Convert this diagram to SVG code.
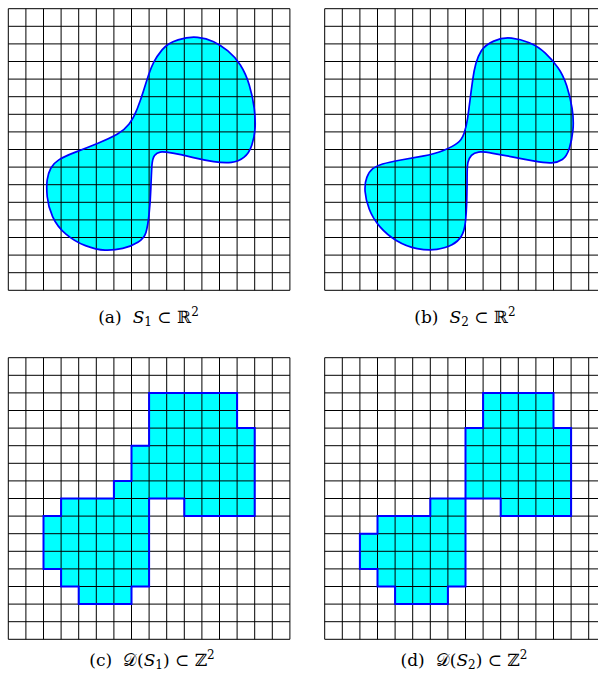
<svg xmlns="http://www.w3.org/2000/svg" xmlns:xlink="http://www.w3.org/1999/xlink" width="598" height="677" viewBox="0 0 598 677">
<style>
.bg{fill:#ffffff}
.grid{fill:none;stroke:#000000;stroke-width:1}
.fillc{fill:#00ffff;stroke:none}
.edge{fill:none;stroke:#0000ff;stroke-width:1.7;stroke-linejoin:round}
.edged{fill:none;stroke:#0000ff;stroke-width:2;stroke-linejoin:miter}
.cap{font-family:"DejaVu Serif","Liberation Serif",serif;font-size:17px;fill:#000000}
.sub{font-size:12px}
.it{font-style:italic}
</style>
<defs>
<path id="gridlines" d="M0,0V281.6M17.6,0V281.6M35.2,0V281.6M52.8,0V281.6M70.4,0V281.6M88,0V281.6M105.6,0V281.6M123.2,0V281.6M140.8,0V281.6M158.4,0V281.6M176,0V281.6M193.6,0V281.6M211.2,0V281.6M228.8,0V281.6M246.4,0V281.6M264,0V281.6M281.6,0V281.6M0,0H281.6M0,17.6H281.6M0,35.2H281.6M0,52.8H281.6M0,70.4H281.6M0,88H281.6M0,105.6H281.6M0,123.2H281.6M0,140.8H281.6M0,158.4H281.6M0,176H281.6M0,193.6H281.6M0,211.2H281.6M0,228.8H281.6M0,246.4H281.6M0,264H281.6M0,281.6H281.6"/>
<path id="s1" d="M189.3,28.7 Q180.4,27.8 169.75,31.15 Q159.1,34.5 153.75,41.2 Q148.4,47.9 145.75,52.9 Q143.1,57.9 140.35,66.15 Q137.6,74.4 135,82.8 Q132.4,91.2 128.85,100.35 Q125.3,109.5 120.8,115.4 Q116.3,121.3 109.2,125.4 Q102.1,129.5 89.7,134.55 Q77.3,139.6 66.55,143.7 Q55.8,147.8 50.5,151.15 Q45.2,154.5 42.5,159.55 Q39.8,164.6 38.9,171.2 Q38,177.8 38.9,187.8 Q39.8,197.8 44.3,207.85 Q48.8,217.9 57.65,225.35 Q66.5,232.8 77.15,236.95 Q87.8,241.1 96.7,241.45 Q105.6,241.8 114.4,239.7 Q123.2,237.6 129.55,233.55 Q135.9,229.5 137.65,223.7 Q139.4,217.9 140.7,206.2 Q142,194.5 142.55,179.55 Q143.1,164.6 143.6,157.1 Q144.1,149.6 146.25,146.7 Q148.4,143.8 152,143.35 Q155.6,142.9 164.5,144.5 Q173.4,146.1 184.05,148.65 Q194.7,151.2 205.35,152.85 Q216,154.5 223.1,153.65 Q230.2,152.8 235.55,148.65 Q240.9,144.5 243.55,136.25 Q246.2,128 246.75,119.6 Q247.3,111.2 245.9,99.5 Q244.5,87.8 240.95,76.2 Q237.4,64.6 232.05,56.25 Q226.7,47.9 219.55,42.1 Q212.4,36.3 205.3,32.95 Q198.2,29.6 189.3,28.7 Z"/>
<path id="s2" d="M186.8,29.45 Q177.9,28.5 169.05,32.4 Q160.2,36.3 156.65,42.1 Q153.1,47.9 151.25,54.55 Q149.4,61.2 148,71.15 Q146.6,81.1 145.35,91.15 Q144.1,101.2 142.9,109.55 Q141.7,117.9 139.4,124.5 Q137.1,131.1 132.6,134.45 Q128.1,137.8 119.25,141.5 Q110.4,145.2 97.9,147.4 Q85.4,149.6 74.75,151.55 Q64.1,153.5 57.85,155.35 Q51.6,157.2 48.05,160 Q44.5,162.8 42.15,168.7 Q39.8,174.6 40.4,182.85 Q41,191.1 44.5,200.35 Q48,209.6 55.15,217.9 Q62.3,226.2 72.05,232.1 Q81.8,238 92.45,239.9 Q103.1,241.8 112.1,240.65 Q121.1,239.5 127.25,236.15 Q133.4,232.8 136.5,227.8 Q139.6,222.8 140.65,213.65 Q141.7,204.5 142.05,191.2 Q142.4,177.9 142.4,167.9 Q142.4,157.9 143.25,153.75 Q144.1,149.6 146.75,146.7 Q149.4,143.8 153.9,143.35 Q158.4,142.9 168.15,144.6 Q177.9,146.3 188.55,148.4 Q199.2,150.5 209.95,152.5 Q220.7,154.5 226.95,154.15 Q233.2,153.8 237.6,150.8 Q242,147.8 244.65,139.45 Q247.3,131.1 248.25,121.15 Q249.2,111.2 247.35,99.5 Q245.5,87.8 242,77 Q238.5,66.2 233.1,58.7 Q227.7,51.2 220.6,44.5 Q213.5,37.8 204.6,34.1 Q195.7,30.4 186.8,29.45 Z"/>
<path id="d1" d="M140.8,35.2 H228.8 V70.4 H246.4 V158.4 H176 V140.8 H140.8 V228.8 H123.2 V246.4 H70.4 V228.8 H52.8 V211.2 H35.2 V158.4 H52.8 V140.8 H105.6 V123.2 H123.2 V88 H140.8 Z"/>
<path id="d2" d="M158.4,35.2 H228.8 V70.4 H246.4 V158.4 H176 V140.8 H140.8 V228.8 H123.2 V246.4 H70.4 V228.8 H52.8 V211.2 H35.2 V176 H52.8 V158.4 H105.6 V140.8 H140.8 V70.4 H158.4 Z"/>
</defs>
<rect class="bg" x="0" y="0" width="598" height="677"/>
<g id="panel-a" transform="translate(8.3,8.7)">
<use xlink:href="#s1" class="fillc"/>
<use xlink:href="#gridlines" class="grid"/>
<use xlink:href="#s1" class="edge"/>
</g>
<g id="panel-b" transform="translate(324.7,8.7)">
<use xlink:href="#s2" class="fillc"/>
<use xlink:href="#gridlines" class="grid"/>
<use xlink:href="#s2" class="edge"/>
</g>
<g id="panel-c" transform="translate(8.3,357.7)">
<use xlink:href="#d1" class="fillc"/>
<use xlink:href="#gridlines" class="grid"/>
<use xlink:href="#d1" class="edged"/>
</g>
<g id="panel-d" transform="translate(324.7,357.7)">
<use xlink:href="#d2" class="fillc"/>
<use xlink:href="#gridlines" class="grid"/>
<use xlink:href="#d2" class="edged"/>
</g>
<g id="captions">
<text id="cap-a" class="cap" x="148.5" y="323" text-anchor="middle">(a)<tspan dx="11" class="it">S</tspan><tspan class="sub" dy="3">1</tspan><tspan dy="-3"> ⊂ ℝ</tspan><tspan class="sub" dy="-7">2</tspan></text>
<text id="cap-b" class="cap" x="465" y="323" text-anchor="middle">(b)<tspan dx="11" class="it">S</tspan><tspan class="sub" dy="3">2</tspan><tspan dy="-3"> ⊂ ℝ</tspan><tspan class="sub" dy="-7">2</tspan></text>
<text id="cap-c" class="cap" x="152" y="666" text-anchor="middle">(c)<tspan dx="11">𝒟(</tspan><tspan class="it">S</tspan><tspan class="sub" dy="3">1</tspan><tspan dy="-3">) ⊂ ℤ</tspan><tspan class="sub" dy="-7">2</tspan></text>
<text id="cap-d" class="cap" x="464" y="666" text-anchor="middle">(d)<tspan dx="11">𝒟(</tspan><tspan class="it">S</tspan><tspan class="sub" dy="3">2</tspan><tspan dy="-3">) ⊂ ℤ</tspan><tspan class="sub" dy="-7">2</tspan></text>
</g>
</svg>
